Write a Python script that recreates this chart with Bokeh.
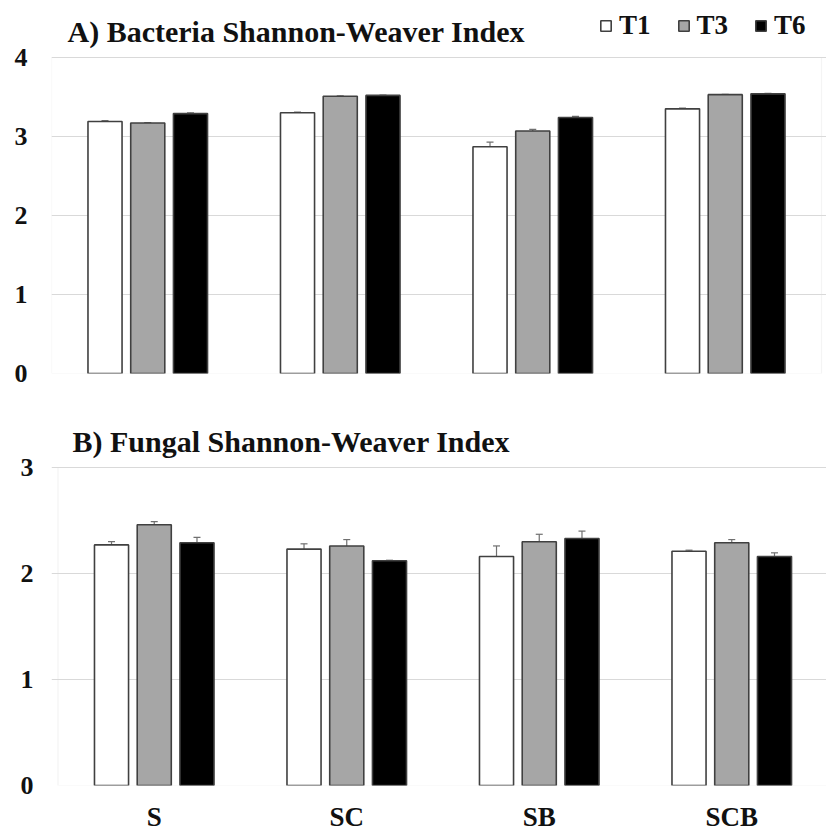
from bokeh.plotting import figure
from bokeh.models import (ColumnDataSource, Range1d, FixedTicker, Whisker, TeeHead,
                          Legend, LegendItem, Label, BoxAnnotation)
from bokeh.layouts import column
from bokeh.embed import file_html
from bokeh.resources import INLINE

# Treatments and sampling times
categories = ["S", "SC", "SB", "SCB"]
series = ["T1", "T3", "T6"]

# A) Bacteria Shannon-Weaver index (mean, standard error)
bac_T1 = [3.19, 3.30, 2.87, 3.35]
bac_T3 = [3.17, 3.51, 3.07, 3.53]
bac_T6 = [3.29, 3.52, 3.24, 3.54]
bac_T1_err = [0.010, 0.010, 0.060, 0.010]
bac_T3_err = [0.005, 0.005, 0.020, 0.005]
bac_T6_err = [0.010, 0.005, 0.015, 0.005]

# B) Fungal Shannon-Weaver index (mean, standard error)
fun_T1 = [2.27, 2.23, 2.16, 2.21]
fun_T3 = [2.46, 2.26, 2.30, 2.29]
fun_T6 = [2.29, 2.12, 2.33, 2.16]
fun_T1_err = [0.030, 0.050, 0.100, 0.010]
fun_T3_err = [0.030, 0.060, 0.070, 0.030]
fun_T6_err = [0.050, 0.005, 0.070, 0.035]

# styling
FONT = "Liberation Serif"
INK = "#111111"
fills = {"T1": "#ffffff", "T3": "#a6a6a6", "T6": "#000000"}
offsets = {"T1": -0.222, "T3": 0.0, "T6": 0.222}
BAR_W = 0.177
GRID = "#d9d9d9"
WIDTH = 826
LEFT = 51            # frame starts here; headings and legend live inside the frame
GROUP_PX = 192.5     # pixels per treatment group


def make_panel(title, means, errs, y_max, height, bottom, box_top_px, box_left_px,
               title_dx, title_base_px, tick_standoff, show_x, box_right):
    frame_h = height - bottom
    frame_w = WIDTH - LEFT
    # extend the ranges so the heading row above the plot box is part of the frame
    y_end = y_max * frame_h / (frame_h - box_top_px)
    x_start = -(box_left_px - LEFT) / GROUP_PX
    x_end = x_start + frame_w / GROUP_PX
    p = figure(width=WIDTH, height=height, x_range=Range1d(x_start, x_end),
               y_range=Range1d(0, y_end), output_backend="svg",
               toolbar_location=None, min_border_top=0, min_border_bottom=bottom,
               min_border_left=LEFT, min_border_right=0)
    p.background_fill_color = "white"
    p.border_fill_color = "white"
    p.outline_line_color = None

    # plot-area border
    p.add_layout(BoxAnnotation(left=0, right=box_right, bottom=0, top=y_max,
                               fill_alpha=0, line_color=GRID, line_width=1.2,
                               level="underlay"))

    renderers = {}
    for s in series:
        xs = [i + 0.5 + offsets[s] for i in range(len(categories))]
        src = ColumnDataSource(dict(
            x=xs, top=means[s],
            upper=[m + e for m, e in zip(means[s], errs[s])],
            lower=[m - e for m, e in zip(means[s], errs[s])]))
        r = p.vbar(x="x", top="top", width=BAR_W, bottom=0, source=src,
                   fill_color=fills[s], line_color="#404040", line_width=1.6)
        renderers[s] = r
        w = Whisker(base="x", upper="upper", lower="lower", source=src,
                    line_color="#707070", line_width=1.2,
                    upper_head=TeeHead(size=7, line_color="#707070", line_width=1.2),
                    lower_head=TeeHead(size=7, line_color="#707070", line_width=1.2))
        p.add_layout(w)

    # panel heading (screen units from the frame's lower-left corner)
    p.add_layout(Label(x=title_dx, y=frame_h - title_base_px,
                       x_units="screen", y_units="screen",
                       text=title, text_font=FONT, text_font_style="bold",
                       text_font_size="30px", text_color=INK,
                       text_baseline="alphabetic", text_align="left"))

    # y axis
    p.yaxis.axis_label = None
    p.yaxis.ticker = FixedTicker(ticks=list(range(0, int(y_max) + 1)))
    p.yaxis.major_tick_line_color = None
    p.yaxis.minor_tick_line_color = None
    p.yaxis.major_tick_out = 0
    p.yaxis.major_tick_in = 0
    p.yaxis.major_label_standoff = tick_standoff
    p.yaxis.axis_line_color = None
    p.yaxis.major_label_text_font = FONT
    p.yaxis.major_label_text_font_style = "bold"
    p.yaxis.major_label_text_font_size = "26px"
    p.yaxis.major_label_text_color = INK

    # x axis with treatment names
    p.xaxis.axis_label = None
    p.xaxis.ticker = FixedTicker(ticks=[i + 0.5 for i in range(len(categories))])
    p.xaxis.major_label_overrides = {i + 0.5: c for i, c in enumerate(categories)}
    p.xaxis.major_tick_line_color = None
    p.xaxis.minor_tick_line_color = None
    p.xaxis.major_tick_out = 0
    p.xaxis.major_tick_in = 0
    p.xaxis.major_label_standoff = 16
    p.xaxis.axis_line_color = None
    p.xaxis.major_label_text_font = FONT
    p.xaxis.major_label_text_font_style = "bold"
    p.xaxis.major_label_text_font_size = "27px"
    p.xaxis.major_label_text_color = INK
    p.xaxis.visible = show_x

    p.xgrid.grid_line_color = None
    p.ygrid.grid_line_color = GRID
    p.ygrid.grid_line_width = 1
    return p, renderers, frame_h


pA, rA, hA = make_panel("A) Bacteria Shannon-Weaver Index",
                        {"T1": bac_T1, "T3": bac_T3, "T6": bac_T6},
                        {"T1": bac_T1_err, "T3": bac_T3_err, "T6": bac_T6_err},
                        4, 400, 27, 57, 51, 16, 31, 24, False, 4)

pB, rB, hB = make_panel("B) Fungal Shannon-Weaver Index",
                        {"T1": fun_T1, "T3": fun_T3, "T6": fun_T6},
                        {"T1": fun_T1_err, "T3": fun_T3_err, "T6": fun_T6_err},
                        3, 434, 49, 67, 57.5, 21, 41, 18, True, 10)

# legend in the heading row, right of the title
legend = Legend(items=[LegendItem(label=s, renderers=[rA[s]]) for s in series],
                orientation="horizontal", location=(548, hA - 41),
                glyph_width=13, glyph_height=13, label_standoff=7, spacing=26,
                padding=0, margin=0, border_line_color=None,
                background_fill_alpha=0,
                label_text_font=FONT, label_text_font_style="bold",
                label_text_font_size="27px", label_text_color=INK)
pA.add_layout(legend)

layout = column(pA, pB, spacing=0)
open("out.html", "w").write(file_html(layout, INLINE))
